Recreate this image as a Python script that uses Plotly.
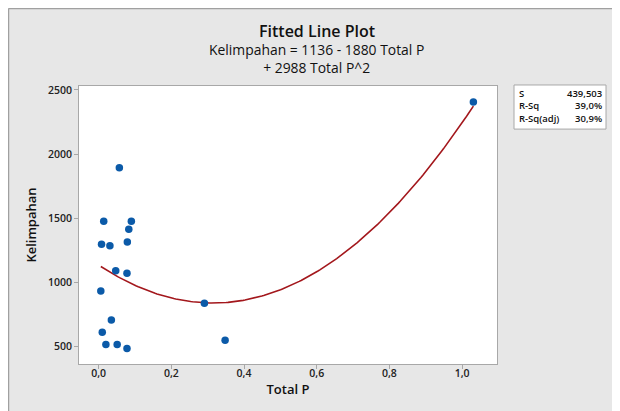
import numpy as np
import plotly.graph_objects as go

# Data
total_p = [0.057, 0.014, 0.090, 0.083, 0.008, 0.031, 0.079, 0.047, 0.078,
           0.006, 0.291, 0.035, 0.010, 0.020, 0.051, 0.078, 0.348, 1.031]
kelimpahan = [1895, 1477, 1477, 1414, 1298, 1287, 1316, 1092, 1072,
              934, 838, 708, 612, 516, 516, 485, 550, 2407]
coef = [1136, -1880, 2988]  # intercept, linear, quadratic
stats_labels = ["S", "R-Sq", "R-Sq(adj)"]
stats_values = ["439,503", "39,0%", "30,9%"]
x_ticks = [0.0, 0.2, 0.4, 0.6, 0.8, 1.0]
x_ticktext = ["0,0", "0,2", "0,4", "0,6", "0,8", "1,0"]
y_ticks = [500, 1000, 1500, 2000, 2500]

xf = np.linspace(min(total_p), max(total_p), 200)
yf = coef[0] + coef[1] * xf + coef[2] * xf ** 2

font_family = "Open Sans, Noto Sans, sans-serif"

fig = go.Figure()
fig.add_trace(go.Scatter(x=xf, y=yf, mode="lines",
                         line=dict(color="#a3171c", width=1.6),
                         hoverinfo="skip", showlegend=False))
fig.add_trace(go.Scatter(x=total_p, y=kelimpahan, mode="markers",
                         marker=dict(color="#0b5aa8", size=7.5),
                         showlegend=False))

axis_common = dict(showgrid=False, zeroline=False, showline=True, mirror=True,
                   linecolor="#a8a8a8", linewidth=1, ticks="outside",
                   ticklen=4, tickcolor="#a8a8a8",
                   tickfont=dict(family=font_family, size=10.5, color="#222", weight=600))

fig.update_xaxes(range=[-0.054, 1.096], tickvals=x_ticks, ticktext=x_ticktext,
                 ticklabelstandoff=-5,
                 title=dict(text="Total P", standoff=1,
                            font=dict(family=font_family, size=13, color="#111", weight=600)),
                 **axis_common)
fig.update_yaxes(range=[365, 2531], tickvals=y_ticks, ticktext=[str(v) for v in y_ticks],
                 title=dict(text="Kelimpahan", standoff=8,
                            font=dict(family=font_family, size=13, color="#111", weight=600)),
                 **axis_common)

title_x = 0.569
annotations = [
    dict(text="Fitted Line Plot", x=title_x, y=1.0, xref="paper", yref="paper",
         yshift=55, showarrow=False, xanchor="center", yanchor="middle",
         font=dict(family=font_family, size=16, color="#111", weight=600)),
    dict(text="Kelimpahan = 1136 - 1880 Total P<br>+ 2988 Total P^2",
         x=title_x, y=1.0, xref="paper", yref="paper",
         yshift=27.5, showarrow=False, xanchor="center", yanchor="middle", align="center",
         font=dict(family=font_family, size=13.9, color="#111")),
    dict(text="<br>".join(stats_labels), x=1.048, y=0.928, xref="paper", yref="paper",
         showarrow=False, xanchor="left", yanchor="middle", align="left",
         font=dict(family=font_family, size=9.5, color="#111", weight=600)),
    dict(text="<br>".join(stats_values), x=1.256, y=0.928, xref="paper", yref="paper",
         showarrow=False, xanchor="right", yanchor="middle", align="right",
         font=dict(family=font_family, size=9.5, color="#111", weight=600)),
]

fig.update_layout(
    width=612, height=403,
    margin=dict(l=71, r=123, t=78, b=47),
    paper_bgcolor="#e7e7e7", plot_bgcolor="#ffffff",
    annotations=annotations,
    shapes=[
        dict(type="rect", xref="paper", yref="paper", x0=1.0407, x1=1.2608,
             y0=0.845, y1=1.0036, fillcolor="#ffffff",
             line=dict(color="#a8a8a8", width=1), layer="below"),
        dict(type="line", xref="paper", yref="paper", x0=-0.1687, x1=1.3,
             y0=1.2788, y1=1.2788, line=dict(color="#a0a0a0", width=1.5)),
        dict(type="line", xref="paper", yref="paper", x0=-0.1687, x1=-0.1687,
             y0=-0.2, y1=1.2788, line=dict(color="#a0a0a0", width=1.5)),
    ],
    hovermode=False,
)

fig.write_html("out.html")
